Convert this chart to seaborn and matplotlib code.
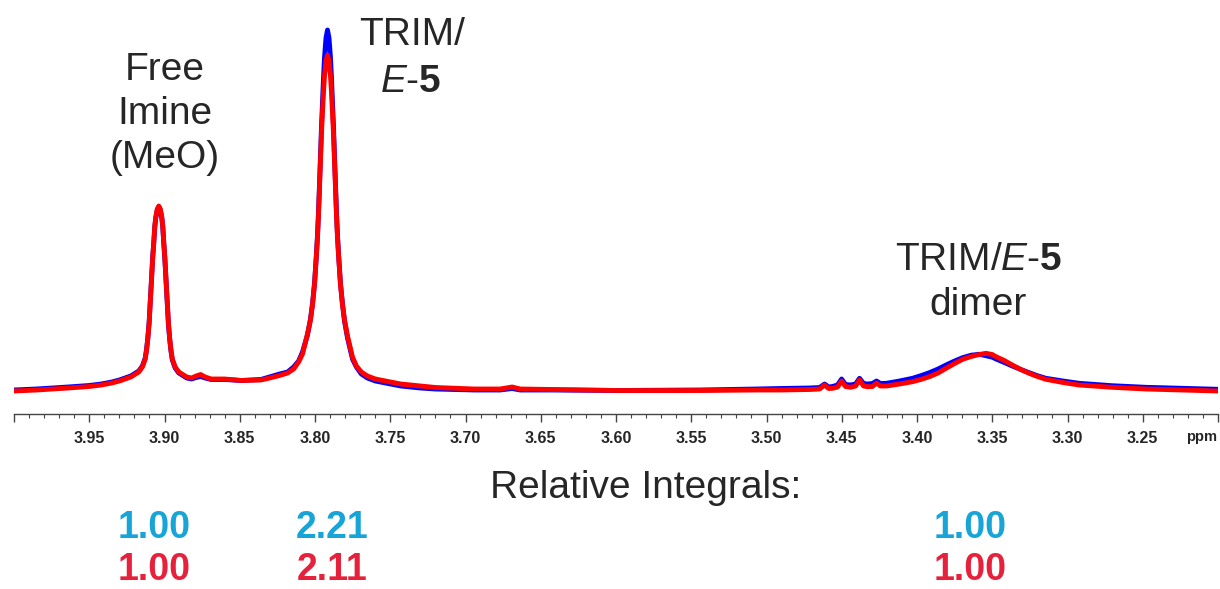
import numpy as np
import pandas as pd
import matplotlib
matplotlib.use('Agg')
import matplotlib.pyplot as plt
import seaborn as sns
from matplotlib.ticker import MultipleLocator

# chemical shift grid (ppm)
ppm = [
    # baseline, left
    4.000, 3.985, 3.964, 3.950, 3.942, 3.935, 3.930,
    # free imine, left flank
    3.9224, 3.9171, 3.9147, 3.9128, 3.9119, 3.9111, 3.9102, 3.9090, 3.9078, 3.9071, 3.90645, 3.9058, 3.9048,
    # free imine, top + right flank
    3.9038, 3.9028, 3.9018, 3.90115, 3.9005, 3.8998, 3.8986, 3.8974, 3.8965, 3.8957, 3.8948, 3.8929, 3.8905, 3.8852,
    # between peaks
    3.8820, 3.8790, 3.8760, 3.8730, 3.8690, 3.8600, 3.8490, 3.8360,
    # TRIM, left flank
    3.8315, 3.8235, 3.8182, 3.8142, 3.8109, 3.8083, 3.8050, 3.8030, 3.8016, 3.8003,
    3.7990, 3.7983, 3.7977, 3.7970, 3.7963, 3.7957, 3.7950, 3.79435, 3.7937, 3.7927,
    # TRIM, top + right flank
    3.7917, 3.7907, 3.7897, 3.78905, 3.7884, 3.7877, 3.7871, 3.7864, 3.7857, 3.7851,
    3.7844, 3.7831, 3.7818, 3.7804, 3.7784, 3.7751, 3.7725, 3.7692, 3.7652, 3.7599,
    # flat stretch
    3.7430, 3.7300, 3.7200, 3.6940, 3.6770, 3.6690, 3.6636, 3.6417, 3.5993, 3.5442, 3.5058, 3.4912, 3.4713, 3.4647,
    # small multiplet
    3.4614, 3.4587, 3.4561, 3.4528, 3.4501, 3.4475, 3.4441, 3.4408, 3.4382, 3.4355, 3.4329, 3.4296, 3.4269, 3.4243, 3.4203, 3.4116,
    # dimer
    3.4030, 3.3975, 3.3918, 3.3860, 3.3807, 3.3750, 3.3697, 3.3640, 3.3586, 3.3542,
    3.3500, 3.3475, 3.3420, 3.3367, 3.3310, 3.3255, 3.3200, 3.3144, 3.3030, 3.2923,
    # baseline, right
    3.2704, 3.2481, 3.2000,
]

# intensities (arbitrary units)
intensity_blue = [
    24, 25, 27, 28.5, 30, 32, 34,
    38, 43, 48, 56, 65, 76, 92, 125, 158, 172, 187, 196, 204,
    207, 204, 196, 187, 171, 156, 123, 90, 74, 63, 54, 46, 41, 36,
    35, 36.5, 37.5, 36, 34.5, 34.5, 33.5, 34.5,
    36.5, 40, 42, 47, 53, 62, 79, 95, 111, 131,
    161, 180, 201, 230, 260, 287, 313, 336, 356, 376,
    384, 376, 356, 336, 313, 287, 260, 230, 201, 180,
    161, 131, 111, 93, 76, 55, 47, 40, 36, 33,
    28, 26, 25, 24, 24, 25.5, 24, 24, 23.5, 24, 25, 25.5, 26, 26.5,
    30, 27, 27.5, 29, 35, 29.5, 29, 30, 35.7, 30.5, 30, 30.5, 33, 30.5, 30.7, 33,
    35.7, 38.3, 41.3, 45, 49, 53, 56.3, 58.8, 59.7, 58.3,
    56.8, 55, 51.5, 48, 44.5, 41.3, 38.3, 35.7, 33, 30.7,
    28.3, 26.7, 24.7,
]

intensity_red = [
    23, 24, 26, 27.5, 29, 31, 33,
    37, 42, 47, 55, 64, 75, 91, 124, 157, 172, 188, 197, 205,
    208, 205, 197, 188, 172, 157, 124, 91, 75, 64, 55, 47, 42, 37,
    36, 38, 39.5, 37, 35, 35, 33.5, 34,
    35.5, 38.5, 41, 45, 52, 60, 80, 94, 110, 130,
    160, 178, 198, 227, 255, 280, 303, 322, 338, 353,
    359, 353, 338, 322, 303, 280, 255, 227, 198, 178,
    160, 130, 110, 94, 78, 57, 48, 42, 38, 35,
    30, 28, 26.5, 25, 25, 27, 25, 24.5, 23.5, 23.5, 24, 24, 24.5, 25,
    29, 25.5, 25.7, 27, 33, 27.5, 26.7, 28, 34, 28, 27.3, 27.5, 31, 28, 28, 30,
    32.3, 34.5, 37.3, 41, 45.7, 50.5, 54.7, 57.5, 59.5, 60.7,
    59.5, 57.3, 53.5, 49, 44.5, 40.7, 37.5, 34.7, 31.5, 29,
    26.7, 25, 23,
]

tick_ppm = [4.00, 3.95, 3.90, 3.85, 3.80, 3.75, 3.70, 3.65, 3.60,
            3.55, 3.50, 3.45, 3.40, 3.35, 3.30, 3.25, 3.20]
tick_labels = ['', '3.95', '3.90', '3.85', '3.80', '3.75', '3.70', '3.65', '3.60',
               '3.55', '3.50', '3.45', '3.40', '3.35', '3.30', '3.25', '']

integral_ppm = [3.9069, 3.7889, 3.3646]
integrals_blue = ['1.00', '2.21', '1.00']
integrals_red = ['1.00', '2.11', '1.00']

TEXT = '#262626'
C_BLUE_TXT = '#17a4d7'
C_RED_TXT = '#e6213b'

sns.set_theme(style='white')
plt.rcParams['font.family'] = ['Liberation Sans', 'DejaVu Sans']
plt.rcParams['mathtext.fontset'] = 'custom'
plt.rcParams['mathtext.rm'] = 'Liberation Sans'
plt.rcParams['mathtext.it'] = 'Liberation Sans:italic'
plt.rcParams['mathtext.bf'] = 'Liberation Sans:bold'

n = len(ppm)
df = pd.DataFrame({
    'ppm': ppm + ppm,
    'intensity': intensity_blue + intensity_red,
    'spectrum': ['blue'] * n + ['red'] * n,
})

fig = plt.figure(figsize=(12.2, 5.89), dpi=100)
ax = fig.add_axes([14 / 1220, 1 - 414 / 589, 1204 / 1220, 414 / 589])

sns.lineplot(data=df, x='ppm', y='intensity', hue='spectrum',
             palette={'blue': '#0000ff', 'red': '#ff0000'},
             estimator=None, linewidth=3.5, legend=False, ax=ax)
for ln in ax.get_lines():
    ln.set_solid_joinstyle('round')
    ln.set_solid_capstyle('round')

ax.set_xlim(4.0, 3.2)
ax.set_ylim(0, 414)
ax.set_xlabel('')
ax.set_ylabel('')
ax.set_yticks([])

ax.set_xticks(tick_ppm)
ax.set_xticklabels(tick_labels, fontweight='bold', color=TEXT)
ax.xaxis.set_minor_locator(MultipleLocator(0.01))
ax.tick_params(axis='x', which='major', bottom=True, direction='out', length=5.5,
               width=1, color='#444444', pad=7, labelsize=11.5)
ax.tick_params(axis='x', which='minor', bottom=True, direction='out', length=3,
               width=0.8, color='#444444')

for s in ['top', 'left', 'right']:
    ax.spines[s].set_visible(False)
ax.spines['bottom'].set_color('#444444')
ax.spines['bottom'].set_linewidth(1)

ax.text(3.2107, -27, 'ppm', ha='center', va='baseline', fontsize=10.5,
        fontweight='bold', color=TEXT)

# peak labels
lbl = dict(ha='center', va='baseline', fontsize=28, color=TEXT)
ax.text(3.8996, 334, 'Free', **lbl)
ax.text(3.8996, 290, 'Imine', **lbl)
ax.text(3.8996, 246, '(MeO)', **lbl)
ax.text(3.7358, 369, 'TRIM/', **lbl)
ax.text(3.7365, 322, r'$\mathit{E}$-$\mathbf{5}$', **lbl)
ax.text(3.3593, 144, r'TRIM/$\mathit{E}$-$\mathbf{5}$', **lbl)
ax.text(3.3593, 99, 'dimer', **lbl)

# relative integrals below the axis
ax.text(3.580, -84, 'Relative Integrals:', **lbl)
for x, vb, vr in zip(integral_ppm, integrals_blue, integrals_red):
    ax.text(x, -124, vb, ha='center', va='baseline', fontsize=27,
            fontweight='bold', color=C_BLUE_TXT)
    ax.text(x, -166, vr, ha='center', va='baseline', fontsize=27,
            fontweight='bold', color=C_RED_TXT)

fig.savefig('out.png', dpi=100, facecolor='white')
